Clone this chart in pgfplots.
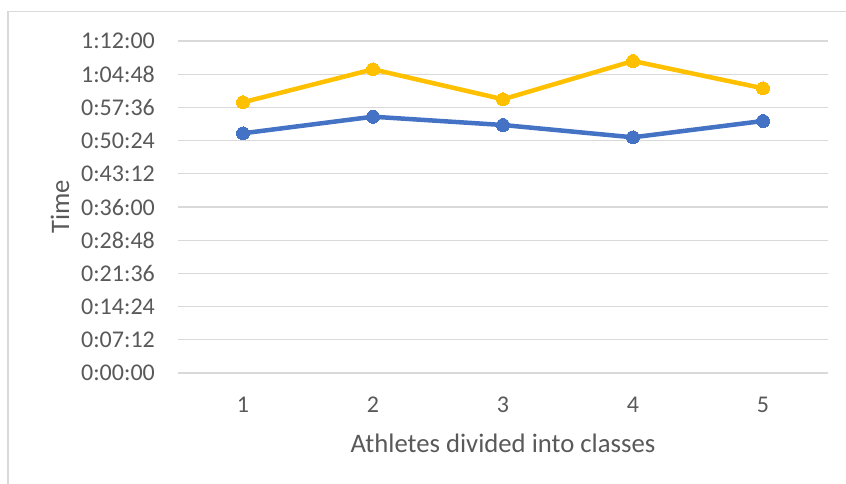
\documentclass[border=0pt]{standalone}
\usepackage{fontspec}
\setmainfont{Carlito}
\usepackage{pgfplots}
\pgfplotsset{compat=1.18}
\definecolor{cblue}{HTML}{4472C4}
\definecolor{cyellow}{HTML}{FFC000}
\definecolor{cgrid}{HTML}{D9D9D9}
\definecolor{ctext}{HTML}{595959}
\begin{document}
\begin{tikzpicture}
\path[use as bounding box] (0,0) rectangle (846pt,484pt);
\draw[cgrid, line width=1.3pt] (8pt,0) -- (8pt,472.5pt) -- (846pt,472.5pt);
\begin{axis}[
  at={(178pt,111pt)}, anchor=south west,
  scale only axis, width=650pt, height=332pt,
  xmin=0.5, xmax=5.5, ymin=0, ymax=72,
  axis line style={draw=none},
  major tick length=0pt,
  clip=false,
  /pgf/number format/assume math mode=true,
  xtick={1,2,3,4,5}, xticklabels={1,2,3,4,5},
  ytick={0,7.2,14.4,21.6,28.8,36,43.2,50.4,57.6,64.8,72},
  yticklabels={0:00:00,0:07:12,0:14:24,0:21:36,0:28:48,0:36:00,0:43:12,0:50:24,0:57:36,1:04:48,1:12:00},
  ymajorgrids,
  grid style={cgrid, line width=1.3pt},
  tick label style={font=\fontsize{24}{28}\selectfont, text=ctext},
  yticklabel style={anchor=east, inner sep=0pt, xshift=-23pt},
  xticklabel style={anchor=north, inner sep=0pt, yshift=-24pt},
  xlabel={Athletes divided into classes},
  ylabel={Time},
  label style={font=\fontsize{26.7}{30}\selectfont, text=ctext},
  xlabel style={at={(axis description cs:0.5,-0.2108)}, anchor=center, inner sep=0pt},
  ylabel style={at={(axis description cs:-0.1815,0.5)}, anchor=center, inner sep=0pt},
]
\addplot[cblue, line width=4.5pt, mark=*, mark size=6.5pt, mark options={fill=cblue, draw=cblue, line width=0pt}]
  coordinates {(1,51.98) (2,55.58) (3,53.78) (4,51.11) (5,54.65)};
\addplot[cyellow, line width=4.5pt, mark=*, mark size=6.5pt, mark options={fill=cyellow, draw=cyellow, line width=0pt}]
  coordinates {(1,58.71) (2,65.86) (3,59.36) (4,67.66) (5,61.74)};
\end{axis}
\end{tikzpicture}
\end{document}
